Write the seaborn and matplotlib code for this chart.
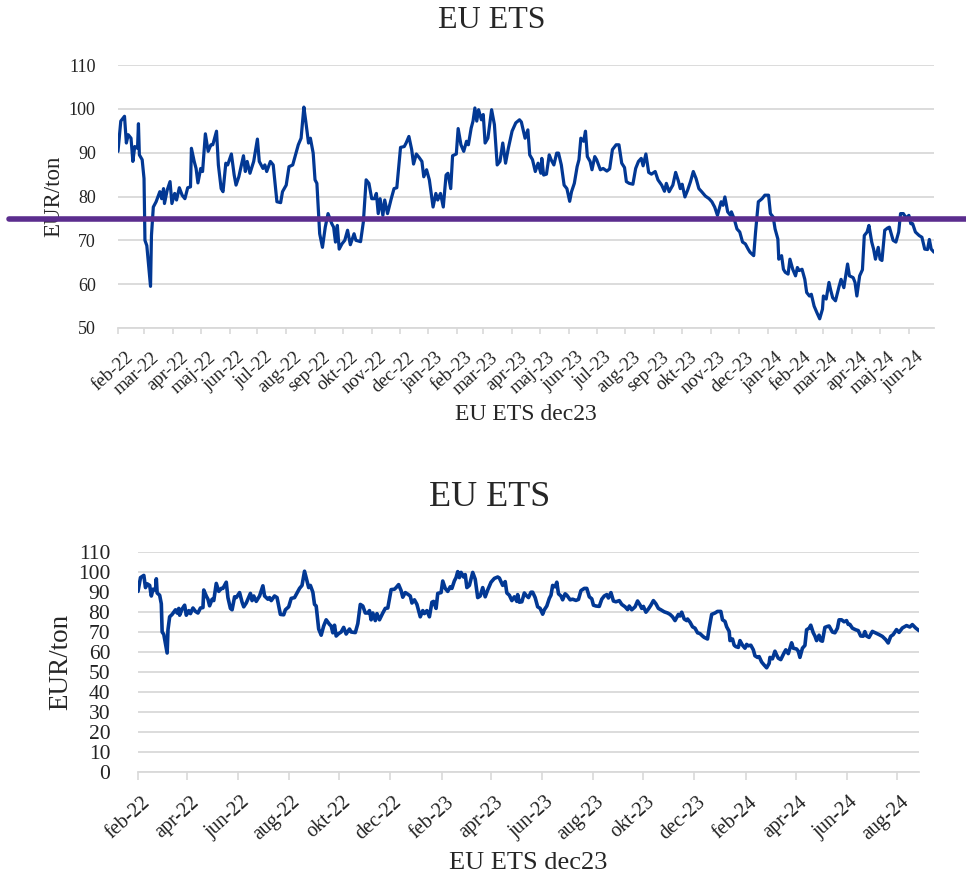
import pandas as pd
import matplotlib
matplotlib.use('Agg')
import matplotlib.pyplot as plt
import matplotlib.transforms as mtransforms
import seaborn as sns

# EU ETS dec23, EUR/ton
dates = [
    '2022-02-01', '2022-02-04', '2022-02-08', '2022-02-10', '2022-02-12', '2022-02-15', '2022-02-17',
    '2022-02-19', '2022-02-22', '2022-02-23', '2022-02-24', '2022-02-27', '2022-03-01', '2022-03-02',
    '2022-03-04', '2022-03-08', '2022-03-09', '2022-03-11', '2022-03-14', '2022-03-18', '2022-03-20',
    '2022-03-22', '2022-03-23', '2022-03-26', '2022-03-29', '2022-03-31', '2022-04-03', '2022-04-05',
    '2022-04-08', '2022-04-11', '2022-04-14', '2022-04-17', '2022-04-20', '2022-04-21', '2022-04-24',
    '2022-04-26', '2022-04-28', '2022-05-01', '2022-05-03', '2022-05-06', '2022-05-09', '2022-05-12',
    '2022-05-14', '2022-05-18', '2022-05-20', '2022-05-23', '2022-05-25', '2022-05-28', '2022-05-30',
    '2022-06-03', '2022-06-06', '2022-06-08', '2022-06-11', '2022-06-16', '2022-06-18', '2022-06-20',
    '2022-06-23', '2022-06-27', '2022-07-01', '2022-07-03', '2022-07-07', '2022-07-09', '2022-07-11',
    '2022-07-15', '2022-07-18', '2022-07-22', '2022-07-26', '2022-07-28', '2022-08-01', '2022-08-04',
    '2022-08-08', '2022-08-11', '2022-08-14', '2022-08-17', '2022-08-20', '2022-08-22', '2022-08-25',
    '2022-08-27', '2022-08-30', '2022-09-01', '2022-09-03', '2022-09-06', '2022-09-09', '2022-09-12',
    '2022-09-15', '2022-09-19', '2022-09-21', '2022-09-23', '2022-09-25', '2022-09-27', '2022-09-30',
    '2022-10-03', '2022-10-06', '2022-10-09', '2022-10-13', '2022-10-15', '2022-10-20', '2022-10-23',
    '2022-10-26', '2022-10-29', '2022-11-01', '2022-11-04', '2022-11-06', '2022-11-08', '2022-11-10',
    '2022-11-13', '2022-11-15', '2022-11-18', '2022-11-22', '2022-11-25', '2022-11-28', '2022-12-01',
    '2022-12-02', '2022-12-06', '2022-12-08', '2022-12-11', '2022-12-14', '2022-12-16', '2022-12-19',
    '2022-12-22', '2022-12-25', '2022-12-27', '2022-12-30', '2023-01-02', '2023-01-06', '2023-01-09',
    '2023-01-11', '2023-01-14', '2023-01-17', '2023-01-20', '2023-01-22', '2023-01-25', '2023-01-27',
    '2023-01-31', '2023-02-02', '2023-02-05', '2023-02-08', '2023-02-11', '2023-02-13', '2023-02-16',
    '2023-02-18', '2023-02-20', '2023-02-22', '2023-02-24', '2023-02-27', '2023-03-01', '2023-03-03',
    '2023-03-06', '2023-03-10', '2023-03-13', '2023-03-16', '2023-03-19', '2023-03-22', '2023-03-25',
    '2023-03-28', '2023-04-01', '2023-04-05', '2023-04-09', '2023-04-11', '2023-04-15', '2023-04-18',
    '2023-04-20', '2023-04-23', '2023-04-26', '2023-04-29', '2023-05-02', '2023-05-03', '2023-05-05',
    '2023-05-08', '2023-05-11', '2023-05-13', '2023-05-16', '2023-05-19', '2023-05-21', '2023-05-24',
    '2023-05-27', '2023-05-30', '2023-06-02', '2023-06-04', '2023-06-07', '2023-06-10', '2023-06-12',
    '2023-06-14', '2023-06-17', '2023-06-19', '2023-06-21', '2023-06-24', '2023-06-26', '2023-06-29',
    '2023-07-01', '2023-07-05', '2023-07-08', '2023-07-12', '2023-07-15', '2023-07-18', '2023-07-22',
    '2023-07-25', '2023-07-28', '2023-07-31', '2023-08-02', '2023-08-05', '2023-08-09', '2023-08-12',
    '2023-08-15', '2023-08-18', '2023-08-20', '2023-08-23', '2023-08-26', '2023-08-29', '2023-09-02',
    '2023-09-05', '2023-09-09', '2023-09-12', '2023-09-14', '2023-09-17', '2023-09-21', '2023-09-24',
    '2023-09-27', '2023-09-29', '2023-10-01', '2023-10-04', '2023-10-07', '2023-10-10', '2023-10-13',
    '2023-10-16', '2023-10-19', '2023-10-22', '2023-10-26', '2023-10-30', '2023-11-02', '2023-11-05',
    '2023-11-08', '2023-11-12', '2023-11-14', '2023-11-16', '2023-11-19', '2023-11-22', '2023-11-23',
    '2023-11-26', '2023-11-29', '2023-12-02', '2023-12-05', '2023-12-08', '2023-12-11', '2023-12-13',
    '2023-12-17', '2023-12-19', '2023-12-22', '2023-12-26', '2023-12-29', '2024-01-02', '2024-01-04',
    '2024-01-07', '2024-01-09', '2024-01-12', '2024-01-13', '2024-01-16', '2024-01-18', '2024-01-20',
    '2024-01-23', '2024-01-25', '2024-01-28', '2024-01-31', '2024-02-02', '2024-02-04', '2024-02-07',
    '2024-02-10', '2024-02-12', '2024-02-15', '2024-02-17', '2024-02-20', '2024-02-23', '2024-02-26',
    '2024-02-29', '2024-03-01', '2024-03-04', '2024-03-07', '2024-03-09', '2024-03-11', '2024-03-14',
    '2024-03-18', '2024-03-20', '2024-03-23', '2024-03-27', '2024-03-29', '2024-04-02', '2024-04-04',
    '2024-04-06', '2024-04-09', '2024-04-12', '2024-04-14', '2024-04-17', '2024-04-19', '2024-04-22',
    '2024-04-24', '2024-04-26', '2024-04-29', '2024-05-01', '2024-05-03', '2024-05-06', '2024-05-09',
    '2024-05-11', '2024-05-13', '2024-05-15', '2024-05-18', '2024-05-21', '2024-05-23', '2024-05-26',
    '2024-05-29', '2024-06-01', '2024-06-03', '2024-06-05', '2024-06-08', '2024-06-12', '2024-06-15',
    '2024-06-18', '2024-06-21', '2024-06-23', '2024-06-25', '2024-06-28', '2024-07-02', '2024-07-06',
    '2024-07-10', '2024-07-14', '2024-07-18', '2024-07-21', '2024-07-24', '2024-07-27', '2024-07-31',
    '2024-08-03', '2024-08-07', '2024-08-12', '2024-08-16', '2024-08-19', '2024-08-23', '2024-08-27',
]
prices = [
    90.3, 97.2, 98.3, 92.2, 94.1, 93.3, 88.0,
    91.4, 91.0, 96.6, 89.5, 88.4, 84.1, 70.0,
    68.8, 59.5, 71.1, 77.6, 78.8, 81.1, 79.5,
    81.8, 78.4, 81.5, 83.4, 78.4, 80.7, 79.2,
    82.0, 80.3, 79.5, 82.0, 82.2, 91.0, 88.0,
    86.4, 83.1, 86.4, 85.7, 94.3, 90.3, 91.8,
    91.8, 94.9, 87.2, 81.8, 81.1, 87.6, 87.2,
    89.7, 84.9, 82.6, 84.5, 89.3, 85.7, 88.0,
    85.3, 88.0, 93.1, 88.0, 86.4, 87.2, 85.7,
    88.0, 87.2, 78.8, 78.6, 81.1, 82.6, 86.8,
    87.2, 89.5, 91.8, 93.3, 100.4, 97.2, 92.2,
    93.3, 89.9, 83.8, 83.0, 71.5, 68.4, 73.0,
    76.1, 73.8, 73.0, 69.6, 73.4, 68.0, 69.2,
    70.0, 72.3, 69.0, 71.5, 70.0, 69.7, 74.2,
    83.8, 83.0, 79.5, 79.5, 80.7, 76.1, 79.5,
    75.7, 79.2, 76.1, 79.5, 81.8, 82.0, 88.7,
    91.2, 91.4, 92.2, 93.7, 90.7, 87.4, 89.7,
    88.9, 88.0, 84.5, 86.1, 83.8, 77.6, 80.7,
    79.2, 80.7, 77.6, 84.9, 85.3, 81.8, 89.3,
    89.7, 95.5, 91.8, 90.3, 92.6, 91.8, 95.6,
    97.2, 100.2, 97.2, 99.8, 97.5, 98.7, 92.2,
    93.3, 99.8, 96.4, 87.2, 88.0, 92.2, 87.6,
    91.0, 94.9, 96.8, 97.5, 97.0, 93.3, 95.2,
    89.5, 88.4, 85.7, 87.6, 85.3, 88.7, 84.9,
    85.1, 89.5, 88.4, 87.2, 89.9, 89.9, 87.2,
    82.6, 81.8, 78.9, 81.1, 83.0, 86.8, 88.4,
    93.3, 92.6, 94.9, 89.1, 88.0, 86.1, 89.1,
    88.4, 86.1, 86.4, 85.8, 86.3, 90.7, 91.8,
    91.8, 87.6, 86.6, 83.4, 83.0, 82.8, 86.4,
    88.0, 88.7, 87.0, 89.7, 85.5, 85.1, 85.7,
    83.8, 82.6, 81.2, 83.0, 81.1, 82.6, 85.5,
    83.5, 81.8, 82.8, 79.9, 81.5, 83.4, 85.7,
    84.1, 81.8, 81.1, 80.1, 79.5, 78.8, 77.6,
    75.7, 78.8, 78.0, 79.9, 76.5, 75.7, 76.5,
    74.9, 72.6, 71.9, 69.6, 69.2, 68.0, 67.3,
    66.5, 71.9, 78.8, 79.5, 80.3, 80.3, 76.1,
    75.3, 72.6, 70.3, 65.7, 66.5, 63.4, 62.7,
    62.3, 65.7, 63.4, 61.9, 63.8, 63.1, 63.4,
    61.1, 58.1, 57.3, 57.7, 55.0, 53.5, 52.1,
    54.3, 57.3, 56.6, 60.4, 58.5, 56.9, 56.2,
    59.6, 61.1, 59.2, 64.6, 61.9, 61.5, 60.4,
    57.3, 61.9, 63.3, 71.1, 71.9, 73.4, 69.6,
    68.0, 65.7, 68.4, 65.7, 65.4, 72.3, 72.8,
    73.0, 71.5, 70.0, 69.6, 71.9, 76.1, 76.1,
    75.1, 75.7, 73.8, 73.8, 71.9, 71.1, 70.7,
    68.0, 67.9, 70.2, 68.0, 67.3, 70.3, 69.5,
    68.7, 67.8, 66.2, 64.5, 67.8, 68.7, 71.2,
    69.8, 72.0, 73.2, 72.5, 73.7, 72.0, 70.7,
]

start_date = '2022-02-01'
top_end = '2024-06-28'
bottom_end = '2024-08-27'
hline_value = 74.8
month_names = ['jan', 'feb', 'mar', 'apr', 'maj', 'jun', 'jul', 'aug', 'sep', 'okt', 'nov', 'dec']
top_yticks = [50, 60, 70, 80, 90, 100, 110]
bottom_yticks = [0, 10, 20, 30, 40, 50, 60, 70, 80, 90, 100, 110]

df = pd.DataFrame({'date': pd.to_datetime(dates), 'price': prices})
df_top = df[df.date <= top_end]

sns.set_theme(style='white')
plt.rcParams['font.family'] = ['Liberation Serif', 'DejaVu Serif']

blue = '#023894'
grid_col = '#d9d9d9'
purple = '#5b2d8e'

fig = plt.figure(figsize=(9.66, 8.86), dpi=100)


def month_labels(ticks):
    return [f"{month_names[d.month - 1]}-{d.year % 100:02d}" for d in ticks]


def style_axes(ax, yticks, ticks, tick_fs, ytick_fs, ticklen, pad, shift):
    ax.set_yticks(yticks)
    ax.set_ylim(yticks[0], yticks[-1])
    ax.yaxis.grid(True, color=grid_col, linewidth=1.3)
    ax.xaxis.grid(False)
    for s in ['top', 'right', 'left']:
        ax.spines[s].set_visible(False)
    ax.spines['bottom'].set_color(grid_col)
    ax.spines['bottom'].set_linewidth(1.3)
    ax.set_xticks(ticks)
    ax.set_xticklabels(month_labels(ticks), rotation=42, ha='right',
                       va='top', rotation_mode='anchor', fontsize=tick_fs)
    ax.tick_params(axis='x', bottom=True, length=ticklen, width=1.2,
                   color=grid_col, pad=pad, labelcolor='#222222')
    ax.tick_params(axis='y', left=False, labelsize=ytick_fs, pad=10,
                   labelcolor='#222222')
    # nudge the rotated labels a little to the right, like the original
    off = mtransforms.ScaledTranslation(shift / 72, 0, fig.dpi_scale_trans)
    for lab in ax.get_xticklabels():
        lab.set_transform(lab.get_transform() + off)


# top chart
ax1 = fig.add_axes([118 / 966, 558 / 886, 816 / 966, 263 / 886])
sns.lineplot(data=df_top, x='date', y='price', ax=ax1, color=blue, linewidth=2.3)
top_ticks = pd.date_range(start_date, top_end, freq='MS')
ax1.set_xlim(pd.Timestamp(start_date), pd.Timestamp(top_end))
style_axes(ax1, top_yticks, top_ticks, 13.5, 13, 4, 11, 5)
ax1.axhline(hline_value, xmin=-0.134, xmax=1.04, color=purple, linewidth=4,
            clip_on=False, zorder=5)
ax1.set_xlabel('EU ETS dec23', fontsize=17)
ax1.set_ylabel('EUR/ton', fontsize=16.5)
ax1.xaxis.set_label_coords(0.5, -0.29)
ax1.yaxis.set_label_coords(-0.066, 0.5)
fig.text(492 / 966, 1 - 20 / 886, 'EU ETS', ha='center', va='center', fontsize=23)

# bottom chart
ax2 = fig.add_axes([138 / 966, 114 / 886, 781 / 966, 220 / 886])
sns.lineplot(data=df, x='date', y='price', ax=ax2, color=blue, linewidth=2.6)
bottom_ticks = pd.date_range(start_date, bottom_end, freq='2MS')
ax2.set_xlim(pd.Timestamp(start_date), pd.Timestamp(bottom_end))
style_axes(ax2, bottom_yticks, bottom_ticks, 14.5, 15.5, 6, 9, 2)
ax2.tick_params(axis='y', pad=14)
ax2.set_xlabel('EU ETS dec23', fontsize=19)
ax2.set_ylabel('EUR/ton', fontsize=19.5)
ax2.xaxis.set_label_coords(0.5, -0.365)
ax2.yaxis.set_label_coords(-0.083, 0.5)
fig.text(490 / 966, 1 - 498 / 886, 'EU ETS', ha='center', va='center', fontsize=26)

fig.savefig('out.png', dpi=100, facecolor='white')
